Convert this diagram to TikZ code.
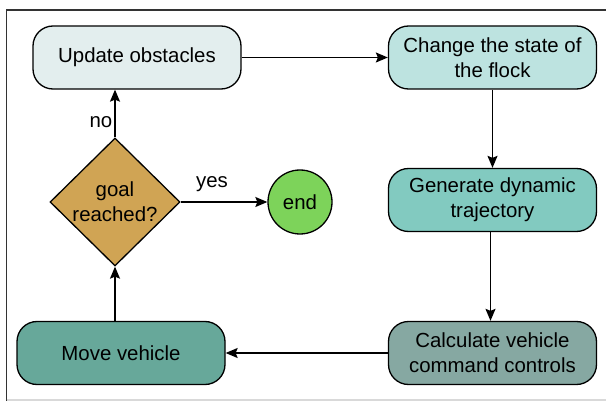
\documentclass[tikz,border=0pt]{standalone}
\usepackage{fontspec}
\setmainfont{Liberation Sans}
\usetikzlibrary{shapes.geometric,arrows.meta}
\definecolor{cupd}{RGB}{227,238,238}
\definecolor{cchg}{RGB}{189,227,224}
\definecolor{cgen}{RGB}{130,202,192}
\definecolor{ccal}{RGB}{134,168,162}
\definecolor{cmov}{RGB}{103,168,154}
\definecolor{cdec}{RGB}{208,164,84}
\definecolor{cend}{RGB}{125,211,90}
\tikzset{
  stepbox/.style={draw,line width=1.3pt,rounded corners=20pt,minimum width=208pt,
    minimum height=63pt,align=center,font=\fontsize{20.4}{25}\selectfont},
  arr/.style={line width=1.3pt,-{Stealth[length=12pt,width=10pt,inset=2pt]}},
}
\begin{document}
\begin{tikzpicture}[x=1pt,y=-1pt]
\useasboundingbox (0,0) rectangle (606,401);
\draw[line width=1.5pt,black!80] (6.5,401) -- (6.5,10) -- (606,10);
\draw[line width=1.5pt,black!15] (6.5,400) -- (606,400);
\node[stepbox,fill=cupd] (upd) at (137,57.5) {Update obstacles};
\node[stepbox,fill=cchg] (chg) at (492.5,57.5) {Change the state of\\the flock};
\node[stepbox,fill=cgen] (gen) at (492.5,200) {Generate dynamic\\trajectory};
\node[stepbox,fill=ccal] (cal) at (492.5,353) {Calculate vehicle\\command controls};
\node[stepbox,fill=cmov] (mov) at (121,353) {Move vehicle};
\node[draw,line width=1.3pt,fill=cdec,diamond,aspect=1.02,inner sep=0pt,minimum width=130pt,
  minimum height=128pt,align=center,font=\fontsize{20.4}{25}\selectfont] (dec) at (115,202) {goal\\reached?};
\node[draw,line width=1.3pt,fill=cend,circle,minimum size=64pt,inner sep=0pt,
  font=\fontsize{20.4}{25}\selectfont] (fin) at (300,202) {end};
\draw[arr] (upd) -- (chg);
\draw[arr] (chg.south) -- (chg.south |- gen.north);
\draw[arr] (gen.south) ++(-2,0) coordinate (g1) -- (g1 |- cal.north);
\draw[arr] (cal) -- (mov);
\draw[arr] (dec.south |- mov.north) -- (dec.south);
\draw[arr] (dec.north) -- (dec.north |- upd.south);
\draw[arr] (dec.east) -- (fin.west);
\node[font=\fontsize{20.4}{25}\selectfont] (lno) at (101,122) {no};
\node[font=\fontsize{20.4}{25}\selectfont] (lyes) at (212,184) {yes};
\end{tikzpicture}
\end{document}
